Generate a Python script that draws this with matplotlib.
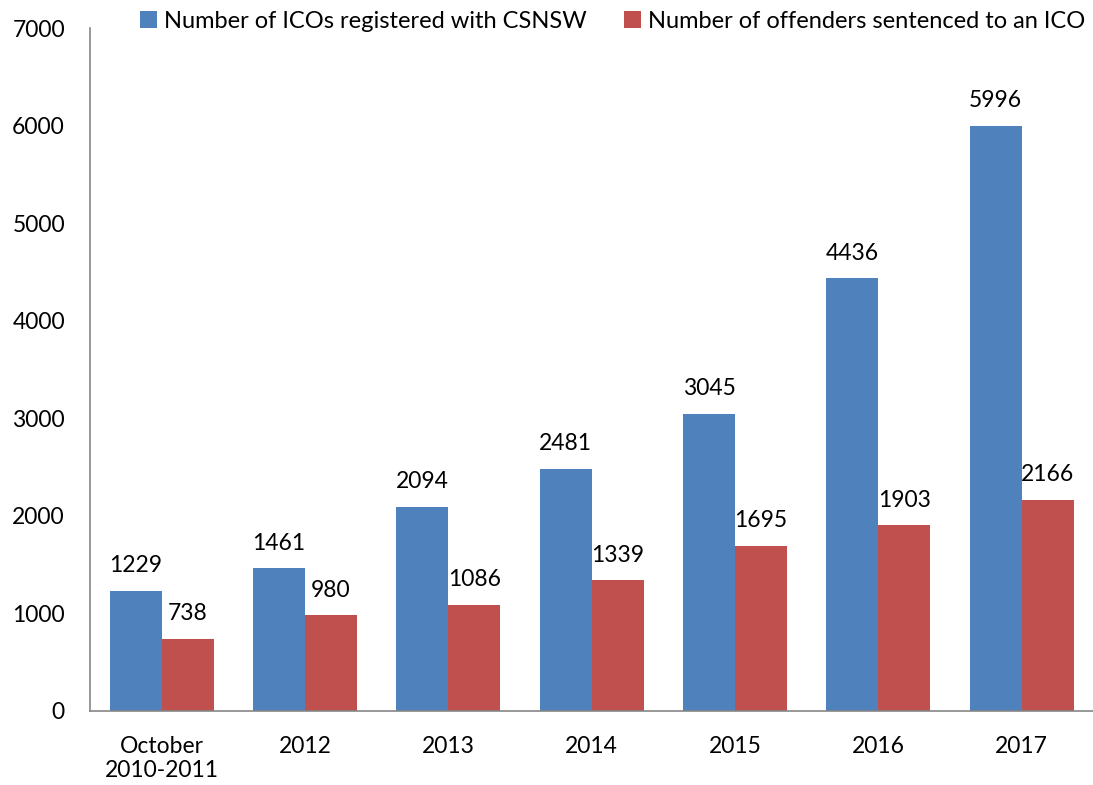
import numpy as np
import matplotlib.pyplot as plt

plt.rcParams['font.family'] = ['Lato', 'DejaVu Sans']

categories = ['October\n2010-2011', '2012', '2013', '2014', '2015', '2016', '2017']
icos_registered = [1229, 1461, 2094, 2481, 3045, 4436, 5996]
offenders_sentenced = [738, 980, 1086, 1339, 1695, 1903, 2166]

fig = plt.figure(figsize=(10.93, 7.85), dpi=100)
ax = fig.add_axes([0.0823, 0.0943, 0.918, 0.870])

x = np.arange(len(categories))
w = 0.362
b1 = ax.bar(x - w / 2, icos_registered, w, color='#4F81BD',
            label='Number of ICOs registered with CSNSW')
b2 = ax.bar(x + w / 2, offenders_sentenced, w, color='#C0504D',
            label='Number of offenders sentenced to an ICO')

for bars in (b1, b2):
    for bar in bars:
        h = bar.get_height()
        ax.text(bar.get_x() + bar.get_width() / 2, h + 150, f'{int(h)}',
                ha='center', va='bottom', fontsize=16.5)

ax.set_xlim(-0.5, len(categories) - 0.5)
ax.set_ylim(0, 7000)
ax.set_yticks(range(0, 7001, 1000))
ax.set_xticks(x)
ax.set_xticklabels(categories)
ax.tick_params(axis='both', length=0, labelsize=16.5)
ax.tick_params(axis='y', pad=18)
ax.tick_params(axis='x', pad=18)
for side in ('top', 'right'):
    ax.spines[side].set_visible(False)
for side in ('left', 'bottom'):
    ax.spines[side].set_color('#868686')
    ax.spines[side].set_linewidth(1.2)

ax.legend(loc='upper center', bbox_to_anchor=(0.521, 1.039), ncol=2, frameon=False,
          fontsize=17, handlelength=0.7, handleheight=0.7, handletextpad=0.3,
          columnspacing=1.6, borderaxespad=0)

fig.savefig('out.png', dpi=100)
